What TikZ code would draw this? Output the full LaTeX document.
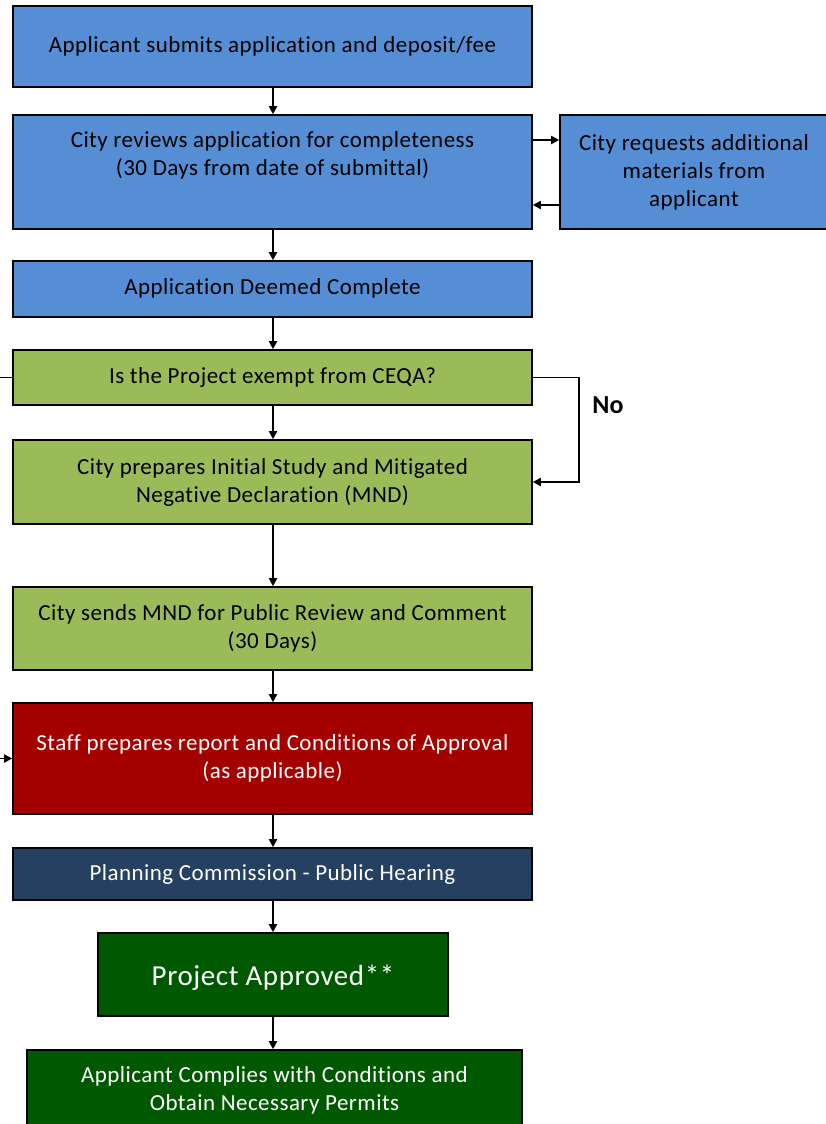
\documentclass[tikz,border=0pt]{standalone}
\usepackage{fontspec}
\setmainfont{Carlito}[LetterSpace=2,Ligatures={NoCommon}]
\newfontfamily\nofont{Carlito}
\usetikzlibrary{arrows.meta}
\definecolor{boxblue}{HTML}{558ED5}
\definecolor{boxlgreen}{HTML}{9BBB59}
\definecolor{boxred}{HTML}{A50000}
\definecolor{boxnavy}{HTML}{254061}
\definecolor{boxdgreen}{HTML}{005800}
\begin{document}
\begin{tikzpicture}[x=1pt,y=-1pt,
  box/.style={draw=black, line width=1.6pt, rectangle, inner sep=0pt, align=center,
    font=\fontsize{23}{28}\selectfont},
  bluebox/.style={box, fill=boxblue, text=black},
  lgbox/.style={box, fill=boxlgreen, text=black},
  redbox/.style={box, fill=boxred, text=white},
  navybox/.style={box, fill=boxnavy, text=white},
  dgbox/.style={box, fill=boxdgreen, text=white},
  arr/.style={line width=1.8pt, -{Triangle[length=8pt,width=8pt]}},
  ln/.style={line width=1.8pt}]
\useasboundingbox (0,0) rectangle (826,1124);
\node[bluebox, minimum width=519pt, minimum height=81pt] (b1) at (272.5,46.5) {Applicant submits application and deposit/fee};
\node[bluebox, minimum width=519pt, minimum height=114pt] (b2) at (272.5,172) {City reviews application for completeness\\(30 Days from date of submittal)\\\strut};
\node[bluebox, minimum width=268pt, minimum height=114pt] (b3) at (694,172) {City requests additional\\materials from\\applicant};
\node[bluebox, minimum width=519pt, minimum height=56pt, text depth=5pt] (b4) at (272.5,289) {Application Deemed Complete};
\node[lgbox, minimum width=519pt, minimum height=55pt, text depth=3pt] (b5) at (272.5,377.5) {Is the Project exempt from CEQA?};
\node[lgbox, minimum width=519pt, minimum height=84pt] (b6) at (272.5,482) {City prepares Initial Study and Mitigated\\Negative Declaration (MND)};
\node[lgbox, minimum width=519pt, minimum height=83pt] (b7) at (272.5,628.5) {City sends MND for Public Review and Comment\\(30 Days)};
\node[redbox, minimum width=519pt, minimum height=111pt] (b8) at (272.5,758.5) {Staff prepares report and Conditions of Approval\\(as applicable)};
\node[navybox, minimum width=519pt, minimum height=52pt] (b9) at (272.5,874) {Planning Commission - Public Hearing};
\node[dgbox, minimum width=350pt, minimum height=83pt, font=\fontsize{29}{34}\selectfont, text height=27pt, text depth=6pt] (b10) at (273,974.5) {Project Approved**};
\node[dgbox, minimum width=495pt, minimum height=80pt] (b11) at (274.5,1090) {Applicant Complies with Conditions and\\Obtain Necessary Permits};
\node[font=\fontsize{26}{30}\nofont\bfseries] (no) at (608,405) {No};
\coordinate (leftin) at (0,377.5);
\coordinate (leftstaff) at (0,758.5);
\coordinate (noturn) at (579,377.5);
\draw[arr] (b1.south -| 273,0) -- (b2.north -| 273,0);
\draw[arr] (b2.south -| 273,0) -- (b4.north -| 273,0);
\draw[arr] (b4.south -| 273,0) -- (b5.north -| 273,0);
\draw[arr] (b5.south -| 273,0) -- (b6.north -| 273,0);
\draw[arr] (b6.south -| 273,0) -- (b7.north -| 273,0);
\draw[arr] (b7.south -| 273,0) -- (b8.north -| 273,0);
\draw[arr] (b8.south -| 273,0) -- (b9.north -| 273,0);
\draw[arr] (b9.south -| 273,0) -- (b10.north -| 273,0);
\draw[arr] (b10.south -| 273,0) -- (b11.north -| 273,0);
\draw[arr] ([yshift=32pt]b2.east) -- ([yshift=32pt]b3.west);
\draw[arr] ([yshift=-33pt]b3.west) -- ([yshift=-33pt]b2.east);
\draw[arr] (b5.east) -- (noturn) |- (b6.east);
\draw[ln] (leftin) -- (b5.west);
\draw[arr] (leftstaff) -- (b8.west);
\end{tikzpicture}
\end{document}
